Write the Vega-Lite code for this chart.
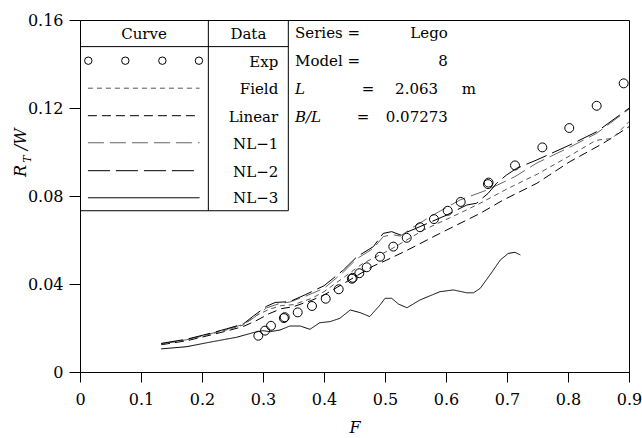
{
  "$schema": "https://vega.github.io/schema/vega-lite/v6.json",
  "width": 549,
  "height": 352,
  "autosize": "none",
  "padding": {"left": 80, "top": 20, "right": 13, "bottom": 66},
  "background": "white",
  "config": {
    "view": {"stroke": "black", "strokeWidth": 1},
    "font": "DejaVu Serif",
    "axis": {"labelFont": "DejaVu Serif", "titleFont": "DejaVu Serif", "labelColor": "black", "titleColor": "black", "domainColor": "black", "tickColor": "black", "grid": false, "labelFontSize": 16, "titleFontSize": 16, "titleFontWeight": "normal"}
  },
  "datasets": {
    "curves": [
      {"s":"Linear","F":0.133,"R":0.0124},{"s":"Linear","F":0.175,"R":0.0142},{"s":"Linear","F":0.208,"R":0.0164},{"s":"Linear","F":0.24,"R":0.0186},{"s":"Linear","F":0.268,"R":0.0207},{"s":"Linear","F":0.29,"R":0.0235},{"s":"Linear","F":0.31,"R":0.0265},{"s":"Linear","F":0.33,"R":0.0288},{"s":"Linear","F":0.35,"R":0.0297},{"s":"Linear","F":0.38,"R":0.0326},{"s":"Linear","F":0.40,"R":0.035},{"s":"Linear","F":0.44,"R":0.0415},{"s":"Linear","F":0.481,"R":0.0482},{"s":"Linear","F":0.503,"R":0.0509},{"s":"Linear","F":0.536,"R":0.0553},{"s":"Linear","F":0.59,"R":0.063},{"s":"Linear","F":0.656,"R":0.0721},{"s":"Linear","F":0.694,"R":0.0782},{"s":"Linear","F":0.749,"R":0.0858},{"s":"Linear","F":0.803,"R":0.0956},{"s":"Linear","F":0.858,"R":0.104},{"s":"Linear","F":0.9,"R":0.1115},
      {"s":"Field","F":0.133,"R":0.0127},{"s":"Field","F":0.175,"R":0.0146},{"s":"Field","F":0.208,"R":0.0168},{"s":"Field","F":0.24,"R":0.0191},{"s":"Field","F":0.268,"R":0.0214},{"s":"Field","F":0.29,"R":0.0258},{"s":"Field","F":0.31,"R":0.0285},{"s":"Field","F":0.33,"R":0.0302},{"s":"Field","F":0.35,"R":0.0306},{"s":"Field","F":0.38,"R":0.0335},{"s":"Field","F":0.40,"R":0.0365},{"s":"Field","F":0.43,"R":0.0425},{"s":"Field","F":0.464,"R":0.0494},{"s":"Field","F":0.508,"R":0.0555},{"s":"Field","F":0.563,"R":0.0645},{"s":"Field","F":0.628,"R":0.0729},{"s":"Field","F":0.656,"R":0.0767},{"s":"Field","F":0.70,"R":0.0832},{"s":"Field","F":0.75,"R":0.09},{"s":"Field","F":0.80,"R":0.0978},{"s":"Field","F":0.845,"R":0.1052},{"s":"Field","F":0.858,"R":0.1058},{"s":"Field","F":0.872,"R":0.106},{"s":"Field","F":0.9,"R":0.1138},
      {"s":"NL-1","F":0.133,"R":0.0128},{"s":"NL-1","F":0.175,"R":0.0147},{"s":"NL-1","F":0.208,"R":0.017},{"s":"NL-1","F":0.24,"R":0.0193},{"s":"NL-1","F":0.268,"R":0.0217},{"s":"NL-1","F":0.284,"R":0.0245},{"s":"NL-1","F":0.306,"R":0.0292},{"s":"NL-1","F":0.328,"R":0.0312},{"s":"NL-1","F":0.344,"R":0.0318},{"s":"NL-1","F":0.37,"R":0.0345},{"s":"NL-1","F":0.40,"R":0.038},{"s":"NL-1","F":0.432,"R":0.0455},{"s":"NL-1","F":0.454,"R":0.0515},{"s":"NL-1","F":0.481,"R":0.0562},{"s":"NL-1","F":0.497,"R":0.0615},{"s":"NL-1","F":0.511,"R":0.0625},{"s":"NL-1","F":0.525,"R":0.0618},{"s":"NL-1","F":0.55,"R":0.0665},{"s":"NL-1","F":0.579,"R":0.0714},{"s":"NL-1","F":0.623,"R":0.0782},{"s":"NL-1","F":0.667,"R":0.0827},{"s":"NL-1","F":0.713,"R":0.0888},{"s":"NL-1","F":0.749,"R":0.095},{"s":"NL-1","F":0.803,"R":0.1022},{"s":"NL-1","F":0.847,"R":0.1085},{"s":"NL-1","F":0.9,"R":0.1195},
      {"s":"NL-2","F":0.133,"R":0.013},{"s":"NL-2","F":0.175,"R":0.0149},{"s":"NL-2","F":0.208,"R":0.0172},{"s":"NL-2","F":0.24,"R":0.0196},{"s":"NL-2","F":0.268,"R":0.0219},{"s":"NL-2","F":0.284,"R":0.0254},{"s":"NL-2","F":0.306,"R":0.0299},{"s":"NL-2","F":0.32,"R":0.0316},{"s":"NL-2","F":0.344,"R":0.032},{"s":"NL-2","F":0.37,"R":0.0352},{"s":"NL-2","F":0.40,"R":0.0392},{"s":"NL-2","F":0.432,"R":0.0464},{"s":"NL-2","F":0.454,"R":0.0524},{"s":"NL-2","F":0.481,"R":0.057},{"s":"NL-2","F":0.497,"R":0.063},{"s":"NL-2","F":0.511,"R":0.0638},{"s":"NL-2","F":0.525,"R":0.0623},{"s":"NL-2","F":0.55,"R":0.0652},{"s":"NL-2","F":0.60,"R":0.0712},{"s":"NL-2","F":0.634,"R":0.0759},{"s":"NL-2","F":0.65,"R":0.0767},{"s":"NL-2","F":0.669,"R":0.0812},{"s":"NL-2","F":0.683,"R":0.0858},{"s":"NL-2","F":0.699,"R":0.0895},{"s":"NL-2","F":0.716,"R":0.0926},{"s":"NL-2","F":0.749,"R":0.0964},{"s":"NL-2","F":0.803,"R":0.1032},{"s":"NL-2","F":0.847,"R":0.1092},{"s":"NL-2","F":0.9,"R":0.1199},
      {"s":"NL-3","F":0.133,"R":0.0105},{"s":"NL-3","F":0.175,"R":0.0115},{"s":"NL-3","F":0.208,"R":0.0133},{"s":"NL-3","F":0.257,"R":0.0158},{"s":"NL-3","F":0.284,"R":0.0179},{"s":"NL-3","F":0.3,"R":0.0188},{"s":"NL-3","F":0.3115,"R":0.0183},{"s":"NL-3","F":0.328,"R":0.0191},{"s":"NL-3","F":0.344,"R":0.0209},{"s":"NL-3","F":0.361,"R":0.0209},{"s":"NL-3","F":0.377,"R":0.0194},{"s":"NL-3","F":0.393,"R":0.0224},{"s":"NL-3","F":0.41,"R":0.0229},{"s":"NL-3","F":0.426,"R":0.0244},{"s":"NL-3","F":0.443,"R":0.0282},{"s":"NL-3","F":0.459,"R":0.027},{"s":"NL-3","F":0.475,"R":0.0252},{"s":"NL-3","F":0.492,"R":0.0305},{"s":"NL-3","F":0.5,"R":0.0335},{"s":"NL-3","F":0.511,"R":0.0335},{"s":"NL-3","F":0.522,"R":0.0309},{"s":"NL-3","F":0.536,"R":0.0292},{"s":"NL-3","F":0.557,"R":0.0327},{"s":"NL-3","F":0.59,"R":0.0365},{"s":"NL-3","F":0.612,"R":0.0373},{"s":"NL-3","F":0.634,"R":0.036},{"s":"NL-3","F":0.645,"R":0.036},{"s":"NL-3","F":0.656,"R":0.038},{"s":"NL-3","F":0.672,"R":0.0441},{"s":"NL-3","F":0.689,"R":0.0509},{"s":"NL-3","F":0.702,"R":0.0539},{"s":"NL-3","F":0.713,"R":0.0544},{"s":"NL-3","F":0.722,"R":0.0532}
    ],
    "exp": [
      {"F":0.2923,"R":0.0165},{"F":0.3033,"R":0.0188},{"F":0.3131,"R":0.021},{"F":0.3342,"R":0.0245},{"F":0.3356,"R":0.0249},{"F":0.3569,"R":0.0271},{"F":0.3803,"R":0.03},{"F":0.4028,"R":0.0333},{"F":0.4241,"R":0.0376},{"F":0.4457,"R":0.0424},{"F":0.4471,"R":0.0428},{"F":0.4579,"R":0.0449},{"F":0.47,"R":0.0476},{"F":0.4918,"R":0.0524},{"F":0.5136,"R":0.057},{"F":0.5356,"R":0.061},{"F":0.5574,"R":0.0658},{"F":0.5803,"R":0.0695},{"F":0.6028,"R":0.0733},{"F":0.6241,"R":0.0773},{"F":0.6688,"R":0.0854},{"F":0.6698,"R":0.0861},{"F":0.7131,"R":0.0939},{"F":0.7579,"R":0.1021},{"F":0.8021,"R":0.1109},{"F":0.847,"R":0.121},{"F":0.8913,"R":0.1312}
    ],
    "legLines": [
      {"s":"Field","F":0.013,"R":0.129},{"s":"Field","F":0.196,"R":0.129},
      {"s":"Linear","F":0.013,"R":0.1165},{"s":"Linear","F":0.196,"R":0.1165},
      {"s":"NL-1","F":0.013,"R":0.1042},{"s":"NL-1","F":0.196,"R":0.1042},
      {"s":"NL-2","F":0.013,"R":0.0915},{"s":"NL-2","F":0.196,"R":0.0915},
      {"s":"NL-3","F":0.013,"R":0.0792},{"s":"NL-3","F":0.196,"R":0.0792}
    ],
    "legPts": [
      {"F":0.0136,"R":0.1415},{"F":0.0743,"R":0.1415},{"F":0.135,"R":0.1415},{"F":0.195,"R":0.1415}
    ],
    "tableRules": [
      {"F":0.2104,"F2":0.2104,"R":0.0733,"R2":0.16},
      {"F":0.3415,"F2":0.3415,"R":0.0733,"R2":0.16},
      {"F":0,"F2":0.3415,"R":0.1479,"R2":0.1479},
      {"F":0,"F2":0.3415,"R":0.0733,"R2":0.0733}
    ],
    "centerText": [
      {"F":0.105,"R":0.1536,"t":"Curve"},{"F":0.276,"R":0.1536,"t":"Data"},
      {"F":0.472,"R":0.1285,"t":"="},{"F":0.464,"R":0.116,"t":"="}
    ],
    "rightText": [
      {"F":0.325,"R":0.141,"t":"Exp"},{"F":0.325,"R":0.1285,"t":"Field"},{"F":0.325,"R":0.116,"t":"Linear"},{"F":0.325,"R":0.1035,"t":"NL−1"},{"F":0.325,"R":0.091,"t":"NL−2"},{"F":0.325,"R":0.0789,"t":"NL−3"},
      {"F":0.603,"R":0.154,"t":"Lego"},{"F":0.603,"R":0.1414,"t":"8"},{"F":0.587,"R":0.1285,"t":"2.063"},{"F":0.603,"R":0.116,"t":"0.07273"}
    ],
    "leftText": [
      {"F":0.3525,"R":0.154,"t":"Series ="},{"F":0.3525,"R":0.1414,"t":"Model ="},{"F":0.626,"R":0.1285,"t":"m"}
    ],
    "italicText": [
      {"F":0.3525,"R":0.1285,"t":"L"},{"F":0.3525,"R":0.116,"t":"B/L"}
    ]
  },
  "layer": [
    {
      "data": {"name": "tableRules"},
      "mark": {"type": "rule", "color": "black", "strokeWidth": 1},
      "encoding": {
        "x": {"field": "F", "type": "quantitative", "scale": {"domain": [0, 0.9], "nice": false, "zero": false},
              "axis": {"values": [0,0.1,0.2,0.3,0.4,0.5,0.6,0.7,0.8,0.9], "labelExpr": "datum.value == 0 ? '0' : format(datum.value, '.1f')", "tickSize": 10, "labelPadding": 9, "title": "F", "titleFontStyle": "italic", "titlePadding": 12, "labelFlush": false}},
        "x2": {"field": "F2"},
        "y": {"field": "R", "type": "quantitative", "scale": {"domain": [0, 0.16], "nice": false, "zero": false},
              "axis": {"values": [0,0.04,0.08,0.12,0.16], "labelExpr": "datum.value == 0 ? '0' : format(datum.value, '.2f')", "tickSize": 11, "labelPadding": 6, "title": null, "labelFlush": false}},
        "y2": {"field": "R2"}
      }
    },
    {
      "data": {"name": "curves"},
      "mark": {"type": "line", "strokeWidth": 1, "clip": true},
      "encoding": {
        "x": {"field": "F", "type": "quantitative"},
        "y": {"field": "R", "type": "quantitative"},
        "detail": {"field": "s"},
        "color": {"field": "s", "type": "nominal", "scale": {"domain": ["Field","Linear","NL-1","NL-2","NL-3"], "range": ["#555555","#000000","#666666","#000000","#000000"]}, "legend": null},
        "strokeDash": {"field": "s", "type": "nominal", "scale": {"domain": ["Field","Linear","NL-1","NL-2","NL-3"], "range": [[5,4],[9,5],[16,6],[22,6],[1,0]]}, "legend": null}
      }
    },
    {
      "data": {"name": "legLines"},
      "mark": {"type": "line", "strokeWidth": 1},
      "encoding": {
        "x": {"field": "F", "type": "quantitative"},
        "y": {"field": "R", "type": "quantitative"},
        "detail": {"field": "s"},
        "color": {"field": "s", "type": "nominal", "legend": null},
        "strokeDash": {"field": "s", "type": "nominal", "legend": null}
      }
    },
    {
      "data": {"name": "exp"},
      "mark": {"type": "point", "shape": "circle", "filled": false, "size": 80, "color": "black", "strokeWidth": 1, "opacity": 1},
      "encoding": {
        "x": {"field": "F", "type": "quantitative"},
        "y": {"field": "R", "type": "quantitative"}
      }
    },
    {
      "data": {"name": "legPts"},
      "mark": {"type": "point", "shape": "circle", "filled": false, "size": 55, "color": "black", "strokeWidth": 1, "opacity": 1},
      "encoding": {
        "x": {"field": "F", "type": "quantitative"},
        "y": {"field": "R", "type": "quantitative"}
      }
    },
    {
      "data": {"name": "centerText"},
      "mark": {"type": "text", "font": "DejaVu Serif", "fontSize": 15, "align": "center", "baseline": "middle", "color": "black"},
      "encoding": {
        "x": {"field": "F", "type": "quantitative"},
        "y": {"field": "R", "type": "quantitative"},
        "text": {"field": "t"}
      }
    },
    {
      "data": {"name": "rightText"},
      "mark": {"type": "text", "font": "DejaVu Serif", "fontSize": 15, "align": "right", "baseline": "middle", "color": "black"},
      "encoding": {
        "x": {"field": "F", "type": "quantitative"},
        "y": {"field": "R", "type": "quantitative"},
        "text": {"field": "t"}
      }
    },
    {
      "data": {"name": "leftText"},
      "mark": {"type": "text", "font": "DejaVu Serif", "fontSize": 15, "align": "left", "baseline": "middle", "color": "black"},
      "encoding": {
        "x": {"field": "F", "type": "quantitative"},
        "y": {"field": "R", "type": "quantitative"},
        "text": {"field": "t"}
      }
    },
    {
      "data": {"name": "italicText"},
      "mark": {"type": "text", "font": "DejaVu Serif", "fontSize": 15, "fontStyle": "italic", "align": "left", "baseline": "middle", "color": "black"},
      "encoding": {
        "x": {"field": "F", "type": "quantitative"},
        "y": {"field": "R", "type": "quantitative"},
        "text": {"field": "t"}
      }
    },
    {
      "data": {"values": [{"F": -0.097, "R": 0.0914, "t": "R"}, {"F": -0.097, "R": 0.1058, "t": "/W"}]},
      "mark": {"type": "text", "font": "DejaVu Serif", "fontSize": 16, "fontStyle": "italic", "align": "center", "baseline": "middle", "angle": 270, "color": "black", "clip": false},
      "encoding": {
        "x": {"field": "F", "type": "quantitative"},
        "y": {"field": "R", "type": "quantitative"},
        "text": {"field": "t"}
      }
    },
    {
      "data": {"values": [{"F": -0.0845, "R": 0.0968, "t": "T"}]},
      "mark": {"type": "text", "font": "DejaVu Serif", "fontSize": 11, "fontStyle": "italic", "align": "center", "baseline": "middle", "angle": 270, "color": "black", "clip": false},
      "encoding": {
        "x": {"field": "F", "type": "quantitative"},
        "y": {"field": "R", "type": "quantitative"},
        "text": {"field": "t"}
      }
    }
  ]
}
